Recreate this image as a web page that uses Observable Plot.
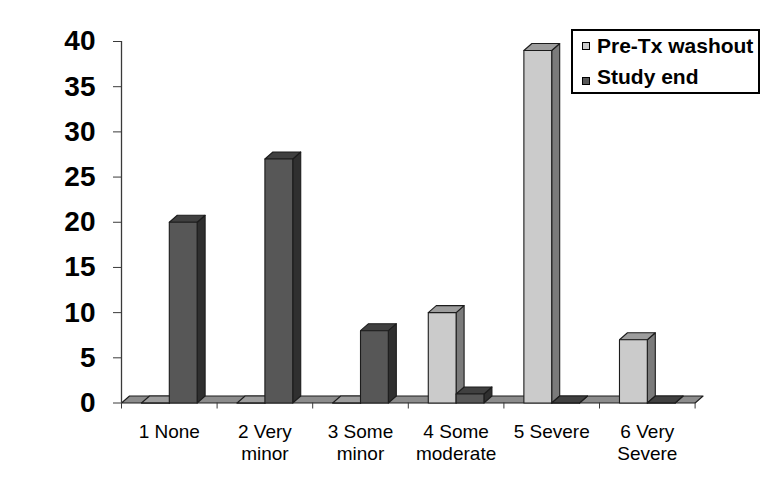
<!DOCTYPE html>
<html>
<head>
<meta charset="utf-8">
<script src="https://cdn.jsdelivr.net/npm/d3@7"></script>
<script src="https://cdn.jsdelivr.net/npm/@observablehq/plot@0.6"></script>
<style>
  body { margin: 0; background: #fff; }
  #wrap { position: relative; width: 773px; height: 481px; font-family: "Liberation Sans", Arial, sans-serif; background: #fff; }
  #wrap svg { position: absolute; left: 0; top: 0; }
  .legend { position: absolute; left: 571px; top: 29px; width: 185px; height: 61px; border: 2px solid #000; background: #fff; }
  .sw { position: absolute; left: 9px; width: 6px; height: 6px; border: 1px solid #000; }
  .lt { position: absolute; left: 24px; font-size: 21px; line-height: 21px; font-weight: bold; color: #000; white-space: nowrap; }
</style>
</head>
<body>
<div id="wrap"></div>
<script>
// ---- data ----
const categories = ["1 None", "2 Very\nminor", "3 Some\nminor", "4 Some\nmoderate", "5 Severe", "6 Very\nSevere"];
const seriesNames = ["Pre-Tx washout", "Study end"];
const preTx = [0, 0, 0, 10, 39, 7];
const studyEnd = [20, 27, 8, 1, 0, 0];
const yTicks = [0, 5, 10, 15, 20, 25, 30, 35, 40];

// ---- layout / style ----
const W = 773, H = 481;
const mL = 121, mR = 78.4, mT = 41, mB = 78.5;
const xPerPx = categories.length / (W - mL - mR);
const yPerPx = 40 / (H - mT - mB);
const ox = 8 * xPerPx, oy = 7 * yPerPx;   // 3D depth offset, in data units
const gap = 0.209, bw = 0.291;
const palette = {
  "Pre-Tx washout": { front: "#cbcbcb", top: "#9d9d9d", side: "#7b7b7b", key: "#cbcbcb" },
  "Study end": { front: "#575757", top: "#404040", side: "#2f2f2f", key: "#575757" }
};

const polys = [];
let pid = 0;
function add(pts, fill) { pid++; for (const [x, y] of pts) polys.push({ id: pid, x, y, fill }); }

// floor
add([[0, 0], [categories.length, 0], [categories.length + ox, oy], [ox, oy]], "#8c8c8c");
// bars
categories.forEach((c, i) => {
  [preTx, studyEnd].forEach((vals, s) => {
    const v = vals[i];
    const p = palette[seriesNames[s]];
    const xa = i + gap + s * bw, xb = xa + bw;
    add([[xb, 0], [xb + ox, oy], [xb + ox, v + oy], [xb, v]], p.side);
    add([[xa, v], [xb, v], [xb + ox, v + oy], [xa + ox, v + oy]], p.top);
    add([[xa, 0], [xb, 0], [xb, v], [xa, v]], p.front);
  });
});

const chart = Plot.plot({
  width: W, height: H,
  marginLeft: mL, marginRight: mR, marginTop: mT, marginBottom: mB,
  x: { type: "linear", domain: [0, categories.length], axis: null },
  y: { type: "linear", domain: [0, 40], axis: null },
  color: { type: "identity" },
  style: { fontFamily: "'Liberation Sans', Arial, sans-serif", background: "transparent", overflow: "visible" },
  marks: [
    Plot.line(polys, { x: "x", y: "y", z: "id", fill: "fill", stroke: "#1c1c1c", strokeWidth: 1.1, curve: "linear-closed", strokeLinejoin: "round" }),
    Plot.ruleX([0], { y1: 0, y2: 40, stroke: "#3a3a3a", strokeWidth: 1.3 }),
    Plot.axisY(yTicks, { anchor: "left", label: null, tickSize: 8, tickPadding: 18, fontSize: 28, fontWeight: "bold", color: "#000", stroke: "#3a3a3a" }),
    Plot.ruleX(d3.range(categories.length + 1), { y1: 0, y2: -6 * yPerPx, stroke: "#3a3a3a", strokeWidth: 1 }),
    Plot.text(categories, { x: (d, i) => i + 0.5, frameAnchor: "bottom", dy: 19, lineAnchor: "top", fontSize: 19, lineHeight: 1.17, fill: "#000" })
  ]
});

const wrap = document.getElementById("wrap");
wrap.appendChild(chart);

// legend
const lg = document.createElement("div");
lg.className = "legend";
const rows = [{ sw: 11, txt: 4 }, { sw: 46, txt: 35 }];
seriesNames.forEach((name, k) => {
  const sw = document.createElement("div");
  sw.className = "sw";
  sw.style.top = rows[k].sw + "px";
  sw.style.background = palette[name].key;
  lg.appendChild(sw);
  const t = document.createElement("div");
  t.className = "lt";
  t.style.top = rows[k].txt + "px";
  t.textContent = name;
  lg.appendChild(t);
});
wrap.appendChild(lg);
</script>
</body>
</html>
